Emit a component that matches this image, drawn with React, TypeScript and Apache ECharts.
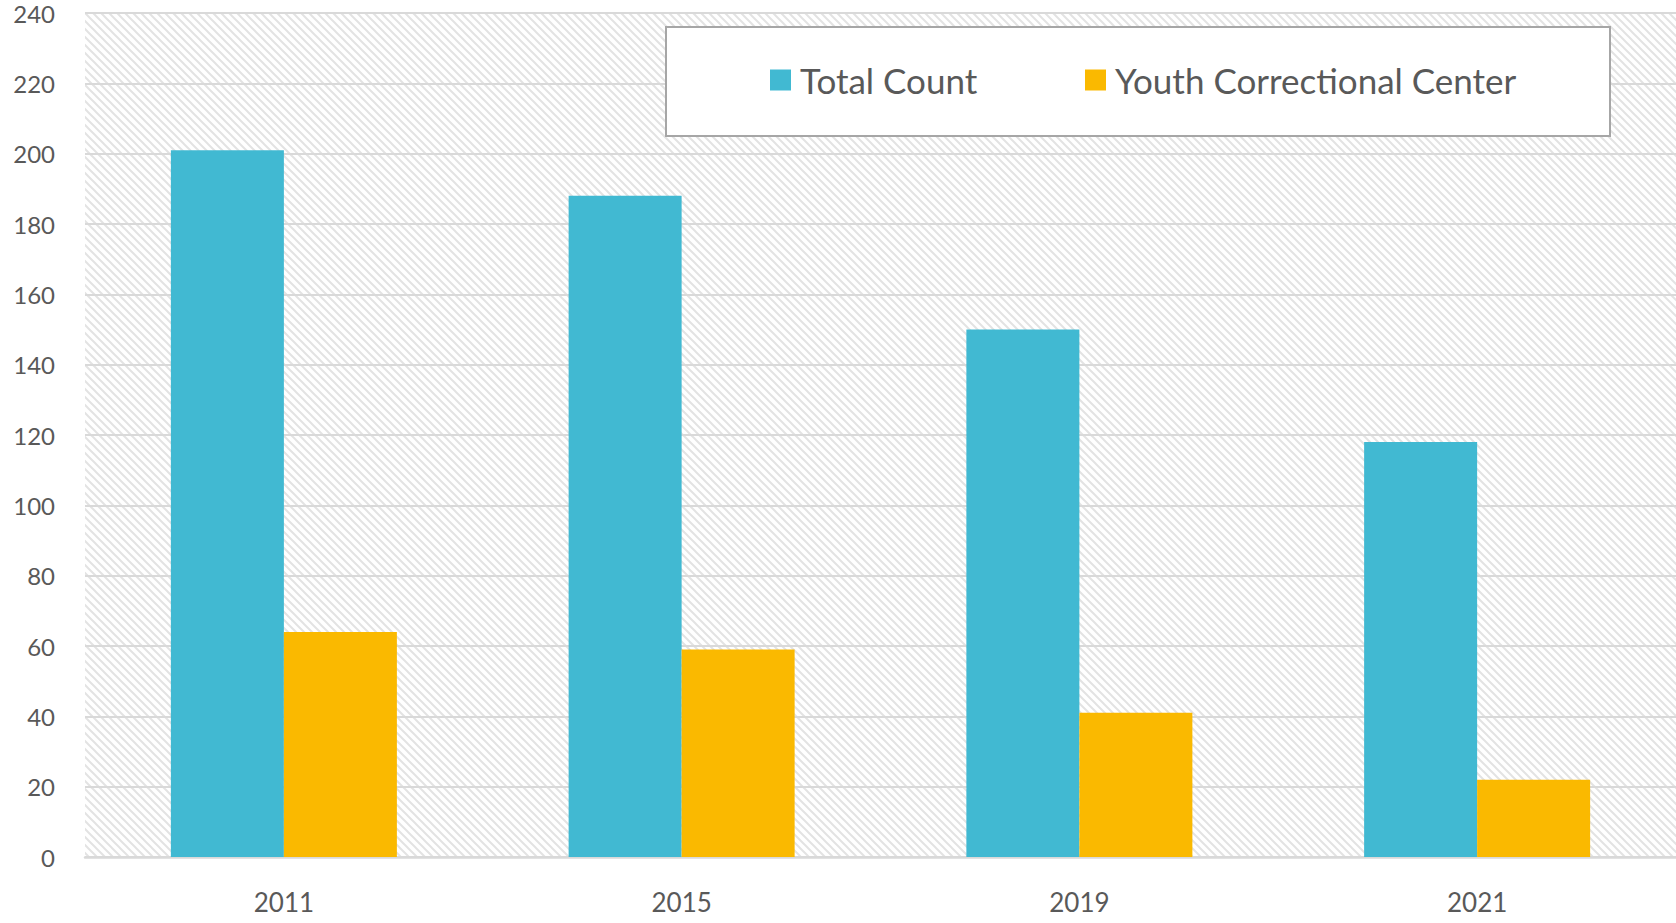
import React, { useEffect, useRef } from "react";
import * as echarts from "echarts";

const categories = ["2011", "2015", "2019", "2021"];
const totalCount = [201, 188, 150, 118];
const youthCenter = [64, 59, 41, 22];
const seriesNames = ["Total Count", "Youth Correctional Center"];

function makeHatch(): HTMLCanvasElement {
  const c = document.createElement("canvas");
  c.width = 8;
  c.height = 8;
  const ctx = c.getContext("2d")!;
  ctx.fillStyle = "#ffffff";
  ctx.fillRect(0, 0, 8, 8);
  ctx.strokeStyle = "#e3e3e3";
  ctx.lineWidth = 2;
  ctx.beginPath();
  ctx.moveTo(-2, -2);
  ctx.lineTo(10, 10);
  ctx.moveTo(-2, 6);
  ctx.lineTo(2, 10);
  ctx.moveTo(6, -2);
  ctx.lineTo(10, 2);
  ctx.stroke();
  return c;
}

export default function App() {
  const ref = useRef<HTMLDivElement>(null);
  useEffect(() => {
    if (!ref.current) return;
    const chart = echarts.init(ref.current, undefined, { renderer: "svg" });
    const font = "Lato, 'Open Sans', sans-serif";
    const legendText = { fontFamily: font, fontSize: 35, color: "#595959", lineHeight: 40, padding: [0, 0, 0, 4] };
    chart.setOption({
      animation: false,
      backgroundColor: "#ffffff",
      grid: {
        left: 85,
        right: 0,
        top: 13,
        bottom: 66,
        show: true,
        borderWidth: 0,
        backgroundColor: { image: makeHatch(), repeat: "repeat" } as any,
      },
      graphic: [
        {
          type: "rect",
          z: 3,
          shape: { x: 666, y: 27, width: 944, height: 109 },
          style: { fill: "#ffffff", stroke: "#a6a6a6", lineWidth: 2 },
        },
      ],
      legend: [
        {
          data: [seriesNames[0]],
          left: 770,
          top: 60,
          padding: 0,
          itemWidth: 21,
          itemHeight: 21,
          icon: "rect",
          z: 5,
          textStyle: legendText,
        },
        {
          data: [seriesNames[1]],
          left: 1085,
          top: 60,
          padding: 0,
          itemWidth: 21,
          itemHeight: 21,
          icon: "rect",
          z: 5,
          textStyle: legendText,
        },
      ],
      xAxis: {
        type: "category",
        data: categories,
        axisTick: { show: false },
        axisLine: { lineStyle: { color: "#d9d9d9", width: 2.5 } },
        axisLabel: { fontFamily: font, fontSize: 26, color: "#595959", margin: 32 },
      },
      yAxis: {
        type: "value",
        min: 0,
        max: 240,
        interval: 20,
        axisLine: { show: false },
        axisTick: { show: false },
        splitLine: { lineStyle: { color: "#d9d9d9", width: 2 } },
        axisLabel: { fontFamily: font, fontSize: 24, lineHeight: 20, color: "#595959", margin: 30 },
      },
      series: [
        {
          name: seriesNames[0],
          type: "bar",
          data: totalCount,
          barWidth: 113,
          barGap: "0%",
          itemStyle: { color: "#41B9D2" },
        },
        {
          name: seriesNames[1],
          type: "bar",
          data: youthCenter,
          barWidth: 113,
          barGap: "0%",
          itemStyle: { color: "#FAB900" },
        },
      ],
    });
    return () => chart.dispose();
  }, []);
  return (
    <div
      ref={ref}
      style={{ position: "fixed", left: 0, top: 0, width: 1676, height: 923 }}
    />
  );
}
